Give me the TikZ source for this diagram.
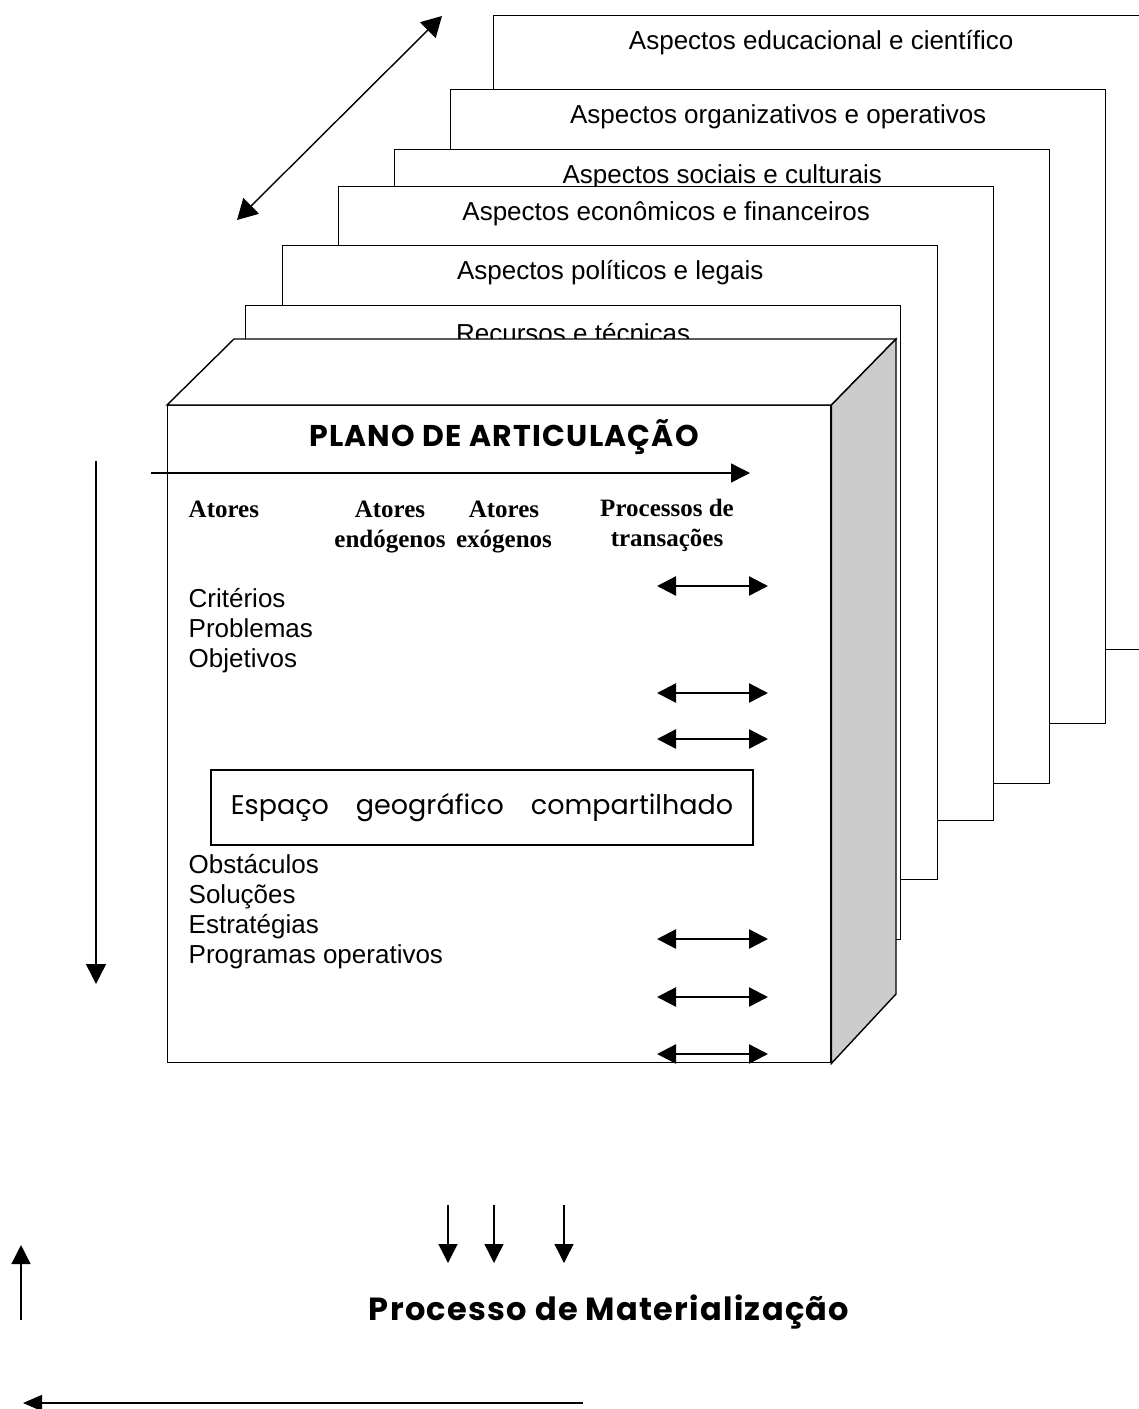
\documentclass[tikz,border=0pt]{standalone}
\usepackage{fontspec}
\setmainfont{Liberation Sans}
\newfontfamily\timesfont{Liberation Serif}
\newfontfamily\comicfont{Poppins}[LetterSpace=4]
\newfontfamily\comiclight{Poppins}
\usetikzlibrary{arrows.meta, positioning, calc}

\begin{document}
\begin{tikzpicture}[
  x=1pt, y=-1pt,
  >={Triangle[length=19pt, width=19pt]},
  line width=1.4pt,
  sheet/.style={draw, fill=white, anchor=north west, minimum width=655pt, minimum height=634pt, inner sep=0pt},
  sheettext/.style={font=\fontsize{26}{30}\selectfont, inner sep=0pt},
  item/.style={font=\fontsize{26}{30}\selectfont, anchor=base west, inner sep=0pt},
  head/.style={font=\timesfont\bfseries\fontsize{25}{30}\selectfont, align=center, anchor=north, inner sep=0pt},
  comic/.style={font=\comicfont\bfseries\fontsize{30}{32}\selectfont, inner sep=0pt},
  flow/.style={->, line width=1.4pt},
  swap/.style={<->, line width=2.4pt}
]
\clip (0,0) rectangle (1139,1409);

% STACKED SHEETS
\foreach \i/\sx/\sy/\txt in {1/493/15/Aspectos educacional e científico,
    2/450/89/Aspectos organizativos e operativos,
    3/394/149/Aspectos sociais e culturais,
    4/338/186/Aspectos econômicos e financeiros,
    5/282/245/Aspectos políticos e legais,
    6/245/305/Recursos e técnicas} {
  \node[sheet] (sh\i) at (\sx,\sy) {};
  \node[sheettext] (sht\i) at ($(sh\i.north)+(0,28)$) {\txt};
}
\coordinate (diagA) at (237,220);
\coordinate (diagB) at (442,16);
\draw[<->, >={Triangle[length=20pt, width=22pt]}] (diagA) -- (diagB);

% CUBE
\node[draw, fill=white, anchor=north west, minimum width=663pt, minimum height=657pt, inner sep=0pt] (front) at (167,405) {};
\coordinate (topL) at (234,339);
\coordinate (topR) at (896,339);
\coordinate (botR) at (896,994);
\draw[fill=white] (front.north west) -- (topL) -- (topR) -- (front.north east) -- cycle;
\draw[fill=gray!40] (front.north east) -- (topR) -- (botR) -- (front.south east) -- cycle;

\node[comic] (plano) at (504,437) {PLANO DE ARTICULAÇÃO};
\coordinate (axA) at (151,473);
\coordinate (axB) at (750,473);
\draw[flow] (axA) -- (axB);

% HEADERS
\node[head, anchor=north west] (atores) at (188,500) {Atores};
\node[head] (endo) at (390,500) {Atores\\endógenos};
\node[head] (exo) at (504,500) {Atores\\exógenos};
\node[head] (proc) at (667,498) {Processos de\\transações};

% ITEMS
\foreach \t [count=\k] in {Critérios, Problemas, Objetivos}
  \node[item] (crit\k) at (188,577+30*\k) {\t};
\foreach \t [count=\k] in {Obstáculos, Soluções, Estratégias, Programas operativos}
  \node[item] (obst\k) at (188,843+30*\k) {\t};

\node[draw, minimum width=542pt, minimum height=75pt, inner sep=0pt,
  font=\comiclight\fontsize{27}{30}\selectfont] (espaco) at (482,807.5) {Espaço\quad geográfico\quad compartilhado};

% TRANSACTIONS
\foreach \ty [count=\k] in {586,693,739,939,997,1054} {
  \coordinate (trL\k) at (657,\ty);
  \coordinate (trR\k) at (768,\ty);
  \draw[swap] (trL\k) -- (trR\k);
}

% SIDE ARROWS
\coordinate (vA) at (96,461);
\coordinate (vB) at (96,984);
\draw[flow, >={Triangle[length=20pt, width=20pt]}] (vA) -- (vB);

% MATERIALIZATION
\foreach \dx [count=\k] in {448,494,564} {
  \coordinate (dA\k) at (\dx,1205);
  \coordinate (dB\k) at (\dx,1263);
  \draw[flow] (dA\k) -- (dB\k);
}
\node[comic, font=\comicfont\bfseries\fontsize{32}{34}\selectfont] (mat) at (609,1312) {Processo de Materialização};
\coordinate (upA) at (21,1320);
\coordinate (upB) at (21,1245);
\draw[flow] (upA) -- (upB);
\coordinate (lfA) at (583,1403);
\coordinate (lfB) at (23,1403);
\draw[flow, >={Triangle[length=19pt, width=16pt]}] (lfA) -- (lfB);

\end{tikzpicture}
\end{document}
